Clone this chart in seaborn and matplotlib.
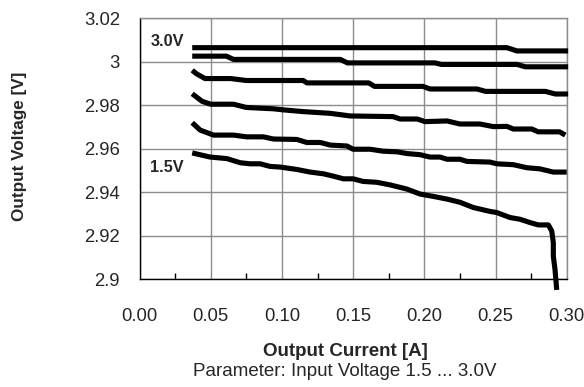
"""
Output voltage vs output current, one curve per input voltage (1.5 ... 3.0V).
"""

import matplotlib

matplotlib.use("Agg")
import matplotlib.pyplot as plt
import numpy as np
import pandas as pd
import seaborn as sns

# Input voltage of each curve [V]
VIN_LEVELS = [1.5, 1.8, 2.1, 2.4, 2.7, 3.0]

# Output current [A] / output voltage [V]
I_15 = [0.037, 0.0496, 0.0613, 0.0707, 0.0777, 0.0847, 0.0917, 0.0988, 0.1105,
        0.1198, 0.1292, 0.1362, 0.1432, 0.150, 0.157, 0.1666, 0.176, 0.1877,
        0.197, 0.2064, 0.2158, 0.2251, 0.2344, 0.2462, 0.2508, 0.2602, 0.2672,
        0.2742, 0.280, 0.2871, 0.2895, 0.2906, 0.2906, 0.2918, 0.293]
U_15 = [2.9581, 2.9562, 2.9555, 2.9536, 2.9531, 2.9531, 2.9519, 2.9516, 2.9505,
        2.9493, 2.9485, 2.9474, 2.9462, 2.9462, 2.945, 2.9446, 2.9434, 2.9415,
        2.9392, 2.9381, 2.9369, 2.9354, 2.933, 2.9312, 2.9307, 2.9284, 2.9276,
        2.9261, 2.925, 2.925, 2.9222, 2.9168, 2.9106, 2.9044, 2.8951]

I_18 = [0.037, 0.0426, 0.052, 0.066, 0.075, 0.087, 0.094, 0.1105, 0.1175, 0.127,
        0.134, 0.1456, 0.150, 0.162, 0.171, 0.181, 0.188, 0.197, 0.204, 0.211,
        0.216, 0.225, 0.230, 0.246, 0.251, 0.2625, 0.272, 0.281, 0.2906, 0.300]
U_18 = [2.972, 2.9686, 2.9663, 2.9663, 2.9655, 2.9655, 2.9645, 2.9643, 2.9629,
        2.9629, 2.9617, 2.9613, 2.9598, 2.9598, 2.9589, 2.9586, 2.9578, 2.9573,
        2.9562, 2.9562, 2.9552, 2.9552, 2.9542, 2.9539, 2.9531, 2.9527, 2.9513,
        2.9508, 2.9493, 2.9493]

I_21 = [0.037, 0.044, 0.050, 0.066, 0.075, 0.094, 0.101, 0.115, 0.134, 0.148,
        0.178, 0.183, 0.195, 0.2005, 0.216, 0.225, 0.239, 0.2485, 0.258, 0.2625,
        0.2755, 0.280, 0.295, 0.299]
U_21 = [2.9853, 2.9818, 2.9805, 2.9805, 2.979, 2.9784, 2.9779, 2.9771, 2.9763,
        2.9751, 2.9748, 2.9737, 2.9737, 2.9725, 2.9728, 2.9714, 2.9714, 2.9702,
        2.9703, 2.9691, 2.9691, 2.9678, 2.9678, 2.9663]

I_24 = [0.037, 0.040, 0.046, 0.064, 0.075, 0.115, 0.1175, 0.161, 0.165, 0.199,
        0.204, 0.237, 0.243, 0.285, 0.292, 0.301]
U_24 = [2.9961, 2.9945, 2.9923, 2.9923, 2.9914, 2.9914, 2.9903, 2.9903, 2.9887,
        2.9887, 2.9875, 2.9875, 2.9864, 2.9864, 2.9852, 2.9852]

I_27 = [0.037, 0.061, 0.066, 0.141, 0.146, 0.2075, 0.212, 0.265, 0.271, 0.301]
U_27 = [3.0026, 3.0026, 3.0011, 3.0011, 2.9995, 2.9995, 2.9988, 2.9988, 2.9977,
        2.9977]

I_30 = [0.037, 0.258, 0.265, 0.301]
U_30 = [3.0065, 3.0065, 3.005, 3.005]

X_TICKS = [0.00, 0.05, 0.10, 0.15, 0.20, 0.25, 0.30]
X_TICK_LABELS = ["0.00", "0.05", "0.10", "0.15", "0.20", "0.25", "0.30"]
Y_TICKS = [2.90, 2.92, 2.94, 2.96, 2.98, 3.00, 3.02]
Y_TICK_LABELS = ["2.9", "2.92", "2.94", "2.96", "2.98", "3", "3.02"]

GRID = "#8c8c8c"


def build_frame():
    curves = [(I_15, U_15), (I_18, U_18), (I_21, U_21),
              (I_24, U_24), (I_27, U_27), (I_30, U_30)]
    parts = []
    for vin, (cur, volt) in zip(VIN_LEVELS, curves):
        parts.append(pd.DataFrame({"current": cur, "voltage": volt, "vin": vin}))
    return pd.concat(parts, ignore_index=True)


def main():
    df = build_frame()

    sns.set_style("white")
    plt.rcParams["font.family"] = ["Liberation Sans", "DejaVu Sans"]

    fig = plt.figure(figsize=(5.84, 3.87), dpi=100)
    ax = fig.add_axes([0.2389, 0.2783, 0.7315, 0.6744])

    sns.lineplot(data=df, x="current", y="voltage", hue="vin", units="vin",
                 palette={v: "black" for v in VIN_LEVELS}, estimator=None,
                 sort=False, legend=False, linewidth=3.7, ax=ax)
    for line in ax.lines:
        line.set_clip_on(False)
        line.set_solid_capstyle("butt")
        line.set_solid_joinstyle("round")
        line.set_zorder(3)

    ax.set_xlim(0, 0.30)
    ax.set_ylim(2.90, 3.02)
    ax.set_xticks(X_TICKS)
    ax.set_xticklabels(X_TICK_LABELS)
    ax.set_xticks(np.arange(0.025, 0.30, 0.05), minor=True)
    ax.set_yticks(Y_TICKS)
    ax.set_yticklabels(Y_TICK_LABELS)

    ax.grid(True, which="major", color=GRID, linewidth=1.0)
    ax.set_axisbelow(True)
    for side in ["top", "right"]:
        ax.spines[side].set_color(GRID)
        ax.spines[side].set_linewidth(1.0)
    for side in ["left", "bottom"]:
        ax.spines[side].set_color("black")
        ax.spines[side].set_linewidth(1.0)
        ax.spines[side].set_zorder(2.5)

    ax.tick_params(axis="x", which="major", direction="out", length=4,
                   width=1, color="black", pad=17, labelsize=13.3)
    ax.tick_params(axis="x", which="minor", direction="in", length=4,
                   width=1, color="black", bottom=True)
    ax.tick_params(axis="y", which="major", direction="out", length=5,
                   width=1, color="black", pad=9, labelsize=13.3)

    ax.set_xlabel("Output Current [A]", fontsize=13.5, fontweight="bold")
    ax.xaxis.label.set_va("baseline")
    ax.xaxis.set_label_coords((345 - 139.5) / 427.2, (279.3 - 356) / 261)
    ax.set_ylabel("Output Voltage [V]", fontsize=12.3, fontweight="bold")
    ax.yaxis.label.set_va("center")
    ax.yaxis.set_label_coords((19 - 139.5) / 427.2, 0.51)

    ax.text(0.0075, 3.0073, "3.0V", fontsize=11.7, fontweight="bold",
            va="baseline", ha="left")
    ax.text(0.0075, 2.9493, "1.5V", fontsize=11.7, fontweight="bold",
            va="baseline", ha="left")

    fig.text(345 / 584, (387 - 376) / 387, "Parameter: Input Voltage 1.5 ... 3.0V",
             fontsize=13.5, ha="center", va="baseline")

    fig.savefig("out.png", dpi=100)
    plt.close(fig)


if __name__ == "__main__":
    main()
